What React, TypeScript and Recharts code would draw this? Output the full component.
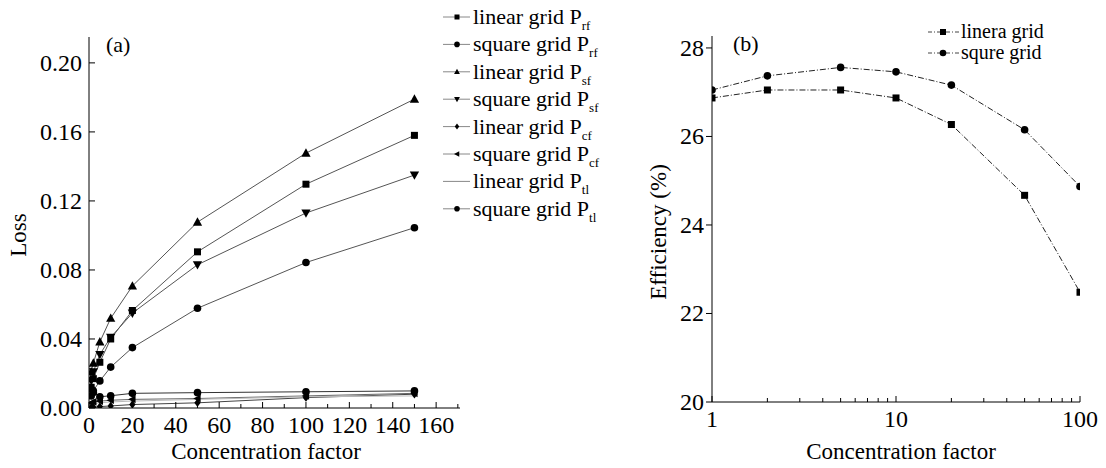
import React from 'react'
import { LineChart, Line, XAxis, YAxis, Legend } from 'recharts'

// concentration factors sampled in (a)
const LOSS_X = [1, 2, 5, 10, 20, 50, 100, 150]
const LINEAR_PRF = [0.012, 0.017, 0.0265, 0.04, 0.0565, 0.0905, 0.1297, 0.158]
const SQUARE_PRF = [0.007, 0.01, 0.0157, 0.0237, 0.035, 0.0578, 0.0843, 0.1045]
const LINEAR_PSF = [0.021, 0.026, 0.0383, 0.052, 0.0707, 0.1077, 0.1477, 0.179]
const SQUARE_PSF = [0.016, 0.021, 0.031, 0.041, 0.055, 0.083, 0.113, 0.135]
const LINEAR_PCF = [0.0002, 0.0004, 0.0008, 0.0012, 0.002, 0.003, 0.006, 0.008]
const SQUARE_PCF = [0.003, 0.0035, 0.004, 0.0045, 0.005, 0.0055, 0.007, 0.0085]
const LINEAR_PTL = [0.002, 0.0025, 0.003, 0.0035, 0.004, 0.005, 0.0065, 0.007]
const SQUARE_PTL = [0.011, 0.009, 0.0065, 0.0071, 0.0085, 0.0089, 0.0094, 0.0099]

const LOSS_TICKS_X = [0, 10, 20, 30, 40, 50, 60, 70, 80, 90, 100, 110, 120, 130, 140, 150, 160, 170]
const LOSS_TICKS_Y = [0, 0.04, 0.08, 0.12, 0.16, 0.2]

// (b) efficiency vs concentration factor
const EFF_X = [1, 2, 5, 10, 20, 50, 100]
const LINERA_GRID = [26.87, 27.05, 27.05, 26.87, 26.27, 24.67, 22.48]
const SQURE_GRID = [27.05, 27.37, 27.56, 27.46, 27.16, 26.15, 24.87]
const EFF_TICKS_X = [1, 2, 3, 4, 5, 6, 7, 8, 9, 10, 20, 30, 40, 50, 60, 70, 80, 90, 100]
const EFF_TICKS_Y = [20, 22, 24, 26, 28]

const FONT = "'Liberation Serif', 'DejaVu Serif', serif"
const txt = (size: number) => ({ fontFamily: FONT, fontSize: size })

const lossSeries = [
  { key: 'linearPrf', values: LINEAR_PRF, shape: 'square', name: 'linear grid P', sub: 'rf', stroke: '#555' },
  { key: 'squarePrf', values: SQUARE_PRF, shape: 'circle', name: 'square grid P', sub: 'rf', stroke: '#555' },
  { key: 'linearPsf', values: LINEAR_PSF, shape: 'triangle', name: 'linear grid  P', sub: 'sf', stroke: '#555' },
  { key: 'squarePsf', values: SQUARE_PSF, shape: 'down', name: 'square grid P', sub: 'sf', stroke: '#555' },
  { key: 'linearPcf', values: LINEAR_PCF, shape: 'diamond', name: 'linear grid  P', sub: 'cf', stroke: '#444' },
  { key: 'squarePcf', values: SQUARE_PCF, shape: 'left', name: 'square grid P', sub: 'cf', stroke: '#666' },
  { key: 'linearPtl', values: LINEAR_PTL, shape: 'none', name: 'linear grid P', sub: 'tl', stroke: '#bbb' },
  { key: 'squarePtl', values: SQUARE_PTL, shape: 'circle', name: 'square grid P', sub: 'tl', stroke: '#333' },
]

const effSeries = [
  { key: 'linera', values: LINERA_GRID, shape: 'square', name: 'linera grid' },
  { key: 'squre', values: SQURE_GRID, shape: 'circle', name: 'squre grid' },
]

const lossData = LOSS_X.map((x, i) => {
  const row: Record<string, number> = { x }
  lossSeries.forEach((s) => (row[s.key] = s.values[i]))
  return row
})

const effData = EFF_X.map((x, i) => {
  const row: Record<string, number> = { x }
  effSeries.forEach((s) => (row[s.key] = s.values[i]))
  return row
})

function Marker({ cx, cy, shape, size = 7 }: { cx: number; cy: number; shape: string; size?: number }) {
  const s = size
  if (shape === 'square') return <rect x={cx - s / 2} y={cy - s / 2} width={s} height={s} fill="#000" />
  if (shape === 'circle') return <circle cx={cx} cy={cy} r={s / 2 + 0.3} fill="#000" />
  if (shape === 'triangle')
    return <polygon points={`${cx},${cy - s * 0.6} ${cx - s * 0.58},${cy + s * 0.45} ${cx + s * 0.58},${cy + s * 0.45}`} fill="#000" />
  if (shape === 'down')
    return <polygon points={`${cx},${cy + s * 0.6} ${cx - s * 0.58},${cy - s * 0.45} ${cx + s * 0.58},${cy - s * 0.45}`} fill="#000" />
  if (shape === 'diamond')
    return <polygon points={`${cx},${cy - s * 0.6} ${cx + s * 0.45},${cy} ${cx},${cy + s * 0.6} ${cx - s * 0.45},${cy}`} fill="#000" />
  if (shape === 'left')
    return <polygon points={`${cx - s * 0.6},${cy} ${cx + s * 0.45},${cy - s * 0.55} ${cx + s * 0.45},${cy + s * 0.55}`} fill="#000" />
  return <g />
}

const dotFor = (shape: string, size = 7) => (props: any) => {
  const { cx, cy, index } = props
  if (cx == null || cy == null) return <g key={index} />
  return <Marker key={index} cx={cx} cy={cy} shape={shape} size={size} />
}

// ticks drawn inward, labels every 20
const LossXTick = ({ x, y, payload }: any) => {
  const v = payload.value
  const major = v % 20 === 0 && v <= 160
  return (
    <g>
      <line x1={x} x2={x} y1={y} y2={y - (major ? 6 : 4)} stroke="#000" />
      {major && (
        <text x={x} y={y + 25} textAnchor="middle" style={txt(24)} fill="#000">
          {v}
        </text>
      )}
    </g>
  )
}

const LossYTick = ({ x, y, payload }: any) => (
  <g>
    <line x1={x} x2={x + 6} y1={y} y2={y} stroke="#000" />
    <text x={x - 7} y={y + 8} textAnchor="end" style={txt(24)} fill="#000">
      {payload.value.toFixed(2)}
    </text>
  </g>
)

const EffXTick = ({ x, y, payload }: any) => {
  const v = payload.value
  const major = v === 1 || v === 10 || v === 100
  return (
    <g>
      <line x1={x} x2={x} y1={y} y2={y - (major ? 6 : 4)} stroke="#000" />
      {major && (
        <text x={x} y={y + 25} textAnchor="middle" style={txt(24)} fill="#000">
          {v}
        </text>
      )}
    </g>
  )
}

const EffYTick = ({ x, y, payload }: any) => (
  <g>
    <line x1={x - 6} x2={x} y1={y} y2={y} stroke="#000" />
    <text x={x - 8} y={y + 8} textAnchor="end" style={txt(24)} fill="#000">
      {payload.value}
    </text>
  </g>
)

function LegendRow({ y, shape, stroke, name, sub, size }: any) {
  return (
    <g>
      <line x1={3} x2={30} y1={y} y2={y} stroke={stroke} />
      <Marker cx={17} cy={y} shape={shape} size={size} />
      <text x={33} y={y + 7} style={txt(22)} fill="#000">
        {name}
        {sub && (
          <tspan style={{ fontSize: 13 }} dy={6}>
            {sub}
          </tspan>
        )}
      </text>
    </g>
  )
}

const LossLegend = () => (
  <svg width={190} height={230}>
    {lossSeries.map((s, i) => (
      <LegendRow key={s.key} y={17 + i * 27.4} shape={s.shape} stroke="#888" name={s.name} sub={s.sub} size={5} />
    ))}
  </svg>
)

const EffLegend = () => (
  <svg width={170} height={70}>
    {effSeries.map((s, i) => (
      <g key={s.key}>
        <line x1={0} x2={32} y1={12 + i * 21} y2={12 + i * 21} stroke="#444" strokeDasharray="4 2 1 2" />
        <Marker cx={15} cy={12 + i * 21} shape={s.shape} size={6} />
        <text x={33} y={18 + i * 21} style={txt(20)} fill="#000">
          {s.name}
        </text>
      </g>
    ))}
  </svg>
)

export default function App() {
  return (
    <div style={{ position: 'absolute', left: 0, top: 0, width: 1106, height: 468, background: '#fff', fontFamily: FONT }}>
      {/* (a) 损耗 */}
      <div style={{ position: 'absolute', left: 0, top: 0 }}>
        <LineChart width={620} height={468} data={lossData} margin={{ top: 37, right: 160, left: 0, bottom: 30 }}>
          <XAxis
            dataKey="x"
            type="number"
            domain={[0, 171]}
            ticks={LOSS_TICKS_X}
            interval={0}
            allowDataOverflow
            tickSize={0}
            tickMargin={0}
            tickLine={false}
            tick={<LossXTick />}
            height={30}
            stroke="#000"
            label={() => (
              <text x={266} y={459} textAnchor="middle" style={txt(23)} fill="#000">
                Concentration factor
              </text>
            )}
          />
          <YAxis
            type="number"
            domain={[0, 0.215]}
            ticks={LOSS_TICKS_Y}
            interval={0}
            allowDataOverflow
            tickSize={0}
            tickMargin={0}
            tickLine={false}
            tick={<LossYTick />}
            width={89}
            stroke="#000"
            label={() => (
              <g>
                <text x={26} y={235} transform="rotate(-90 26 235)" textAnchor="middle" style={txt(23)} fill="#000">
                  Loss
                </text>
                <text x={106} y={52} style={txt(22)} fill="#000">
                  (a)
                </text>
              </g>
            )}
          />
          <Legend
            layout="vertical"
            align="center"
            verticalAlign="middle"
            wrapperStyle={{ position: 'absolute', left: 440, top: 0, width: 190, height: 230 }}
            content={<LossLegend />}
          />
          {lossSeries.map((s) => (
            <Line
              key={s.key}
              dataKey={s.key}
              type="linear"
              stroke={s.stroke}
              strokeWidth={1}
              dot={dotFor(s.shape, s.shape === 'triangle' || s.shape === 'down' ? 8 : 7)}
              activeDot={false}
              isAnimationActive={false}
            />
          ))}
        </LineChart>
      </div>

      {/* (b) 效率 */}
      <div style={{ position: 'absolute', left: 560, top: 0 }}>
        <LineChart width={546} height={468} data={effData} margin={{ top: 36, right: 26, left: 72, bottom: 36 }}>
          <XAxis
            dataKey="x"
            type="number"
            scale="log"
            domain={[1, 100]}
            ticks={EFF_TICKS_X}
            interval={0}
            allowDataOverflow
            tickSize={0}
            tickMargin={0}
            tickLine={false}
            tick={<EffXTick />}
            height={30}
            stroke="#000"
            label={() => (
              <text x={341} y={459} textAnchor="middle" style={txt(23)} fill="#000">
                Concentration factor
              </text>
            )}
          />
          <YAxis
            type="number"
            domain={[20, 28.27]}
            ticks={EFF_TICKS_Y}
            interval={0}
            allowDataOverflow
            tickSize={0}
            tickMargin={0}
            tickLine={false}
            tick={<EffYTick />}
            width={80}
            stroke="#000"
            label={() => (
              <g>
                <text x={106} y={232} transform="rotate(-90 106 232)" textAnchor="middle" style={txt(23)} fill="#000">
                  Efficiency (%)
                </text>
                <text x={173} y={51} style={txt(22)} fill="#000">
                  (b)
                </text>
              </g>
            )}
          />
          <Legend
            layout="vertical"
            align="center"
            verticalAlign="middle"
            wrapperStyle={{ position: 'absolute', left: 368, top: 20, width: 170, height: 70 }}
            content={<EffLegend />}
          />
          {effSeries.map((s) => (
            <Line
              key={s.key}
              dataKey={s.key}
              type="linear"
              stroke="#222"
              strokeWidth={1}
              strokeDasharray="6 2 1 2"
              dot={dotFor(s.shape, 7)}
              activeDot={false}
              isAnimationActive={false}
            />
          ))}
        </LineChart>
      </div>
    </div>
  )
}
